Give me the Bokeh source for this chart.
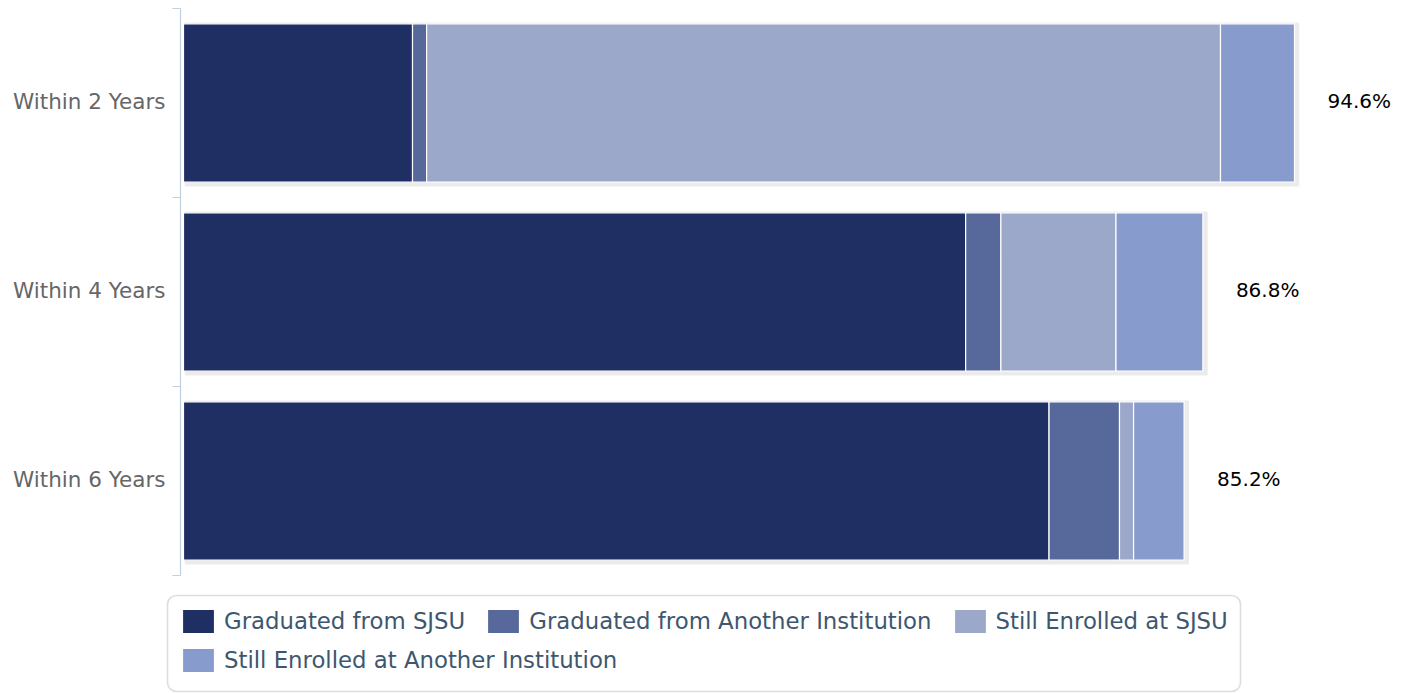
from bokeh.plotting import figure
from bokeh.models import Range1d, Legend, LegendItem, BoxAnnotation, ColumnDataSource
from bokeh.core.properties import value
from bokeh.embed import file_html
from bokeh.resources import INLINE

categories = ["Within 2 Years", "Within 4 Years", "Within 6 Years"]
series_names = ["Graduated from SJSU", "Graduated from Another Institution",
                "Still Enrolled at SJSU", "Still Enrolled at Another Institution"]
grad_sjsu = [19.5, 66.6, 73.7]
grad_other = [1.2, 3.0, 6.0]
enrolled_sjsu = [67.6, 9.8, 1.2]
enrolled_other = [6.3, 7.4, 4.3]
totals = [94.6, 86.8, 85.2]
total_labels = ["94.6%", "86.8%", "85.2%"]
colors = ["#1F2E63", "#57689B", "#9CA8CA", "#889BCD"]

n = len(categories)
ypos = [n - i - 0.5 for i in range(n)]
bounds = [float(i) for i in range(n + 1)]
bar_h = 0.838

src = ColumnDataSource(dict(
    y=ypos,
    **{series_names[0]: grad_sjsu, series_names[1]: grad_other,
       series_names[2]: enrolled_sjsu, series_names[3]: enrolled_other}
))

FONT = "DejaVu Sans"
PX_X = 11.744   # pixels per percent
PX_Y = 189.0    # pixels per category band

W, H = 1408, 693
x0_px, ytop_px = 183, 8
p = figure(width=W, height=H, output_backend="svg", toolbar_location=None,
           x_range=Range1d(-x0_px / PX_X, (W - x0_px) / PX_X),
           y_range=Range1d(n - (H - ytop_px) / PX_Y, n + ytop_px / PX_Y),
           x_axis_location=None, y_axis_location=None,
           min_border_left=0, min_border_right=0, min_border_top=0, min_border_bottom=0)
p.outline_line_color = None
p.xgrid.visible = False
p.ygrid.visible = False
p.background_fill_color = "white"

# category axis (line, boundary ticks, labels)
ax_x = -3 / PX_X
p.segment(x0=[ax_x], y0=[bounds[0]], x1=[ax_x], y1=[bounds[-1]], line_color="#C0D0E0", line_width=1.2)
p.segment(x0=[ax_x] * len(bounds), y0=bounds, x1=[ax_x - 8 / PX_X] * len(bounds), y1=bounds,
          line_color="#C0D0E0", line_width=1.2)
p.text(x=[0.0] * n, y=ypos, text=categories, x_offset=-18, y_offset=-2, text_align="right",
       text_baseline="middle", text_font=value(FONT), text_font_size="21.5px",
       text_color="#666666")

# shadows
p.hbar(y=[v - 0.008 for v in ypos], left=0.15, right=[t + 0.36 for t in totals],
       height=bar_h + 0.024, color="#ebebeb")

rs = p.hbar_stack(series_names, y="y", height=bar_h, color=colors, source=src,
                  line_color="white", line_width=1.2)

p.text(x=totals, y=ypos, text=total_labels, x_offset=33, y_offset=-2, text_baseline="middle",
       text_align="left", text_font=value(FONT), text_font_size="20px", text_color="#000000")

box = BoxAnnotation(left=167, right=1240, top=595, bottom=691,
                    left_units="canvas", right_units="canvas",
                    top_units="canvas", bottom_units="canvas",
                    fill_color=None, fill_alpha=0, line_color="#8f8f8f", line_width=1.6,
                    border_radius=9)
p.add_layout(box)

def mk_legend(items, loc):
    return Legend(items=items, location=loc, orientation="horizontal",
                  border_line_color=None, background_fill_alpha=0, padding=0, margin=0,
                  spacing=18, label_standoff=6, glyph_width=40, glyph_height=30,
                  label_text_font=FONT, label_text_font_size="22.8px",
                  label_text_color="#3E576F", label_text_baseline="middle")

leg1 = mk_legend([LegendItem(label=series_names[i], renderers=[rs[i]]) for i in range(3)], (178, 57))
leg2 = mk_legend([LegendItem(label=series_names[3], renderers=[rs[3]])], (178, 18))
p.add_layout(leg1)
p.add_layout(leg2)

open("out.html", "w").write(file_html(p, INLINE))
